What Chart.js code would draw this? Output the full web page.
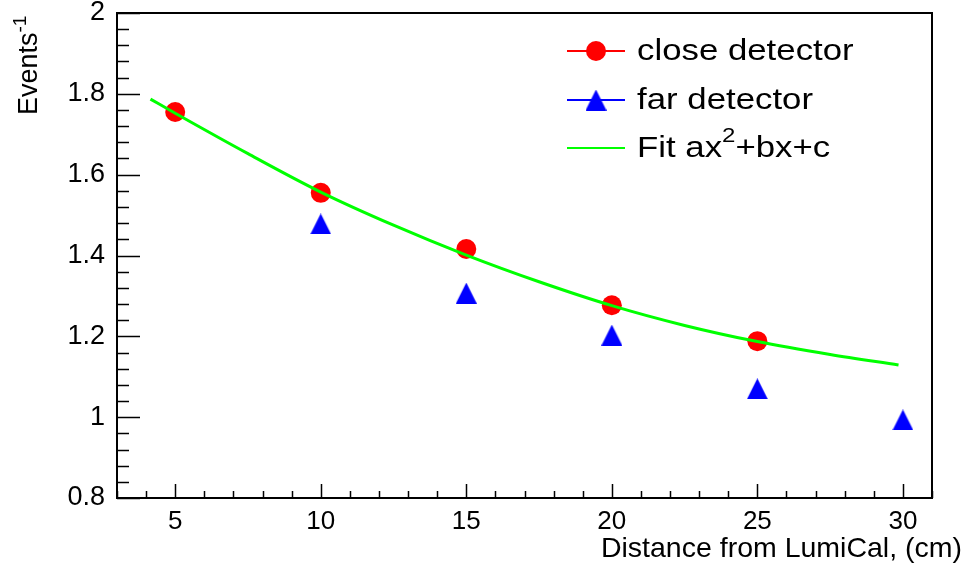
<!DOCTYPE html>
<html>
<head>
<meta charset="utf-8">
<script src="https://cdn.jsdelivr.net/npm/chart.js@4/dist/chart.umd.min.js"></script>
<style>
  html, body { margin: 0; padding: 0; background: #fff; }
  canvas { display: block; }
</style>
</head>
<body>
<canvas id="chart" width="975" height="573"></canvas>
<script>
// tick labels
const xTickValues = [5, 10, 15, 20, 25, 30];
const yTickValues = [0.8, 1, 1.2, 1.4, 1.6, 1.8, 2];

// close detector
const closeDistance = [5, 10, 15, 20, 25];
const closeValues = [1.755, 1.555, 1.416, 1.277, 1.188];

// far detector
const farDistance = [10, 15, 20, 25, 30];
const farValues = [1.478, 1.307, 1.203, 1.07, 0.993];

// quadratic fit curve
const fitDistance = [4.15, 5, 7.5, 10, 12.5, 15, 17.5, 20, 22.5, 25, 27.5, 29.85];
const fitValues = [1.787, 1.752, 1.652, 1.557, 1.475, 1.401, 1.335, 1.276, 1.227, 1.187, 1.155, 1.129];

const FONT = '"Liberation Sans", Arial, Helvetica, sans-serif';

const toPoints = (xs, ys) => xs.map((x, i) => ({ x: x, y: ys[i] }));

// ROOT-like filled triangle marker (taller than Chart.js' equilateral one)
function triangleMarker(size, color) {
    const c = document.createElement('canvas');
    c.width = size;
    c.height = size;
    const g = c.getContext('2d');
    g.fillStyle = color;
    g.beginPath();
    g.moveTo(size / 2, 0);
    g.lineTo(size, size);
    g.lineTo(0, size);
    g.closePath();
    g.fill();
    return c;
}
const blueTriangle = triangleMarker(21, '#0000ff');

// draws text with "^x" parts as superscripts, returns width
function drawRich(ctx, text, x, y, size) {
    const parts = text.split(/\^(\S+?)(?=\+|$)/);
    let cx = x;
    parts.forEach((p, i) => {
        const sup = i % 2 === 1;
        ctx.font = (sup ? Math.round(size * 0.7) : size) + 'px ' + FONT;
        ctx.fillText(p, cx, sup ? y - size * 0.42 : y);
        cx += ctx.measureText(p).width;
    });
    return cx - x;
}

const rootStyle = {
    id: 'rootStyle',
    afterDraw(chart) {
        const ctx = chart.ctx;
        const { left, right, top, bottom } = chart.chartArea;
        const xs = chart.scales.x, ys = chart.scales.y;
        ctx.save();
        ctx.strokeStyle = '#000';
        ctx.lineWidth = 2;
        ctx.strokeRect(left, top, right - left, bottom - top);

        // inward ticks
        ctx.lineWidth = 1.5;
        ctx.beginPath();
        for (let v = 3; v <= 31; v++) {
            const px = Math.round(xs.getPixelForValue(v)) + 0.5;
            const len = v % 5 === 0 ? 14 : 7;
            ctx.moveTo(px, bottom);
            ctx.lineTo(px, bottom - len);
        }
        for (let i = 0; i <= 30; i++) {
            const py = Math.round(ys.getPixelForValue(0.8 + i * 0.04)) + 0.5;
            const len = i % 5 === 0 ? 23 : 12;
            ctx.moveTo(left, py);
            ctx.lineTo(left + len, py);
        }
        ctx.stroke();

        // axis titles
        ctx.fillStyle = '#000';
        ctx.textBaseline = 'alphabetic';
        ctx.font = '28.5px ' + FONT;
        ctx.textAlign = 'right';
        ctx.fillText('Distance from LumiCal, (cm)', 962, 557);
        ctx.textAlign = 'left';
        ctx.save();
        ctx.translate(37, 115);
        ctx.rotate(-Math.PI / 2);
        drawRich(ctx, 'Events^-1', 0, 0, 27);
        ctx.restore();

        // legend
        const rows = [51, 100, 148];
        chart.data.datasets.forEach((ds, i) => {
            const y = rows[i];
            ctx.strokeStyle = ds.legendLine;
            ctx.lineWidth = 2;
            ctx.beginPath();
            ctx.moveTo(567, y);
            ctx.lineTo(625, y);
            ctx.stroke();
            ctx.fillStyle = ds.backgroundColor;
            if (ds.pointStyle === 'circle') {
                ctx.beginPath();
                ctx.arc(596, y, 10, 0, Math.PI * 2);
                ctx.fill();
            } else if (ds.pointStyle instanceof HTMLCanvasElement) {
                ctx.drawImage(ds.pointStyle, 596 - 10.5, y - 10.5);
            }
            ctx.fillStyle = '#000';
            ctx.textBaseline = 'middle';
            ctx.save();
            ctx.translate(637, y + 1);
            ctx.scale(1.2, 1);
            drawRich(ctx, ds.label, 0, 0, 29);
            ctx.restore();
        });
        ctx.restore();
    }
};

new Chart(document.getElementById('chart'), {
    type: 'scatter',
    data: {
        datasets: [{
            label: 'close detector',
            data: toPoints(closeDistance, closeValues),
            pointStyle: 'circle',
            pointRadius: 10,
            pointBorderWidth: 0,
            backgroundColor: '#ff0000',
            borderColor: '#ff0000',
            legendLine: '#ff0000',
            showLine: false,
            order: 1
        }, {
            label: 'far detector',
            data: toPoints(farDistance, farValues),
            pointStyle: blueTriangle,
            pointRadius: 11,
            pointBorderWidth: 0,
            backgroundColor: '#0000ff',
            borderColor: '#0000ff',
            legendLine: '#0000ff',
            showLine: false,
            order: 2
        }, {
            type: 'line',
            label: 'Fit ax^2+bx+c',
            data: toPoints(fitDistance, fitValues),
            borderColor: '#00ff00',
            backgroundColor: '#00ff00',
            legendLine: '#00ff00',
            borderWidth: 3,
            pointRadius: 0,
            cubicInterpolationMode: 'monotone',
            fill: false,
            order: 0
        }]
    },
    options: {
        responsive: false,
        animation: false,
        layout: { padding: { top: 13, right: 43, left: 0, bottom: 0 } },
        plugins: {
            legend: { display: false },
            tooltip: { enabled: false }
        },
        scales: {
            x: {
                type: 'linear',
                min: 3,
                max: 31,
                grid: { display: false, drawTicks: false },
                border: { display: false },
                afterBuildTicks: s => { s.ticks = xTickValues.map(v => ({ value: v })); },
                afterFit: s => { s.height = 75; s.paddingLeft = 0; s.paddingRight = 0; },
                ticks: {
                    autoSkip: false,
                    maxRotation: 0,
                    padding: 8,
                    color: '#000',
                    font: { family: FONT, size: 26 },
                    callback: v => String(v)
                }
            },
            y: {
                type: 'linear',
                min: 0.8,
                max: 2,
                grid: { display: false, drawTicks: false },
                border: { display: false },
                afterBuildTicks: s => { s.ticks = yTickValues.map(v => ({ value: v })); },
                afterFit: s => { s.width = 117; s.paddingTop = 0; s.paddingBottom = 0; },
                ticks: {
                    padding: 12,
                    color: '#000',
                    font: { family: FONT, size: 27 },
                    callback: v => String(v)
                }
            }
        }
    },
    plugins: [rootStyle]
});
</script>
</body>
</html>
